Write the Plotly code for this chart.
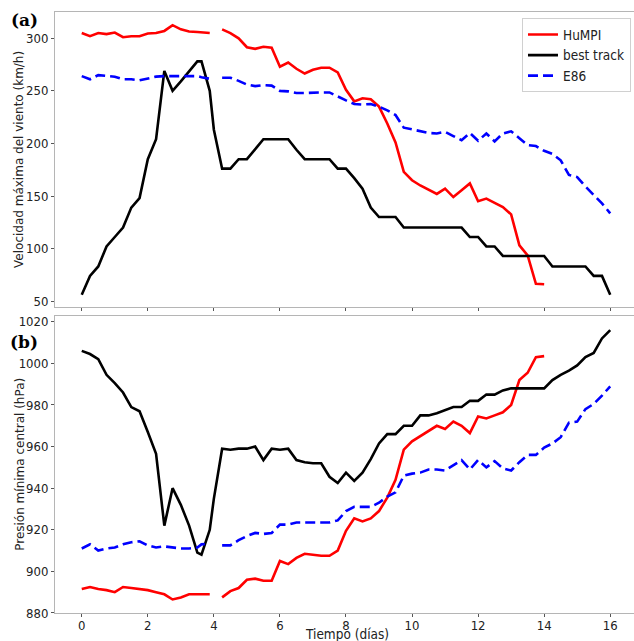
import plotly.graph_objects as go
from plotly.subplots import make_subplots

# time axis (days): 6-hourly, with extra best-track fixes near landfall
dias = [i * 0.25 for i in range(15)] + [3.625, 3.875, 4.0] + [4.25 + i * 0.25 for i in range(48)]

N = None
# (a) maximum wind speed (km/h)
viento_best = [56, 74, 83, 102, 111, 120, 139, 148, 185, 204, 269, 250, 259, 269, 278,
               278, 250, 213,
               176, 176, 185, 185, 194, 204, 204, 204, 204, 194, 185, 185,
               185, 185, 176, 176, 167, 157, 139, 130, 130, 130, 120, 120,
               120, 120, 120, 120, 120, 120, 111, 111, 102, 102, 93, 93,
               93, 93, 93, 93, 83, 83, 83, 83, 83, 74, 74, 56]
viento_humpi = [305, 302, 305, 304, 305.5, 301, 302, 302, 304.5, 305, 307, 312.5, 308.5, 306.5, 306,
                305.5, 305, N,
                308.5, 305, 300, 291.5, 290, 292, 291, 273, 277, 271, 266.5, 270,
                272, 272, 267.5, 251, 240, 243, 242, 235, 219, 201, 173, 165,
                160, 156, 152, 157, 149, 155.5, 162, 145, 147.5, 143.5, 139.5, 132.5,
                103, 93.5, 66.5, 66, N, N, N, N, N, N, N, N]
viento_e86 = [264, 261, 265, 264, 263.5, 261, 261, 260, 262, 263.5, 264, 264, 264, 264.5, 264,
              263, 261.5, N,
              262.5, 262.5, 259.5, 256, 254.5, 255.5, 255, 250, 249.5, 248, 248, 248.5,
              248.5, 248.5, 244.5, 241, 237.5, 237, 237.5, 235, 231.5, 227, 215, 213.5,
              211.5, 210, 209.5, 211, 207, 203, 210, 202.5, 209.5, 202, 209.5, 211.5,
              205, 198.5, 197.5, 193, 190, 184, 170, 168, 159, 151, 143, 133.5]

# (b) minimum central pressure (hPa)
pres_best = [1006, 1004.5, 1002, 994.5, 990.5, 986, 979, 977, 967, 956.5, 922, 940, 932, 922, 909,
             908, 920, 935,
             959, 958.5, 959, 959, 960, 953.5, 959, 958.5, 959, 953.5, 952.5, 952,
             952, 945.5, 942.5, 947.5, 943.5, 947.5, 954, 961.5, 966, 966, 970, 970,
             975, 975, 976, 977.5, 979, 979, 982, 982, 985, 985, 987, 988,
             988, 988, 988, 988, 992, 994.5, 996.5, 999, 1003, 1005, 1012, 1016]
pres_humpi = [891.5, 892.5, 891.5, 891, 890, 892.5, 892, 891.5, 891, 890, 889, 886.5, 887.5, 889, 889,
              889, 889, N,
              887.5, 890.5, 892, 896, 896.5, 895.5, 895.5, 905, 903.5, 906.5, 908.5, 908,
              907.5, 907.5, 910, 919.5, 925.5, 924, 925.5, 929, 935.5, 944, 958.5, 962.5,
              965, 967.5, 970, 968.5, 972, 970, 966.5, 974.5, 973.5, 975, 976.5, 980,
              992, 995.5, 1003, 1003.5, N, N, N, N, N, N, N, N]
pres_e86 = [911, 913, 910, 911, 911.5, 913, 914, 914.5, 912.5, 911.5, 912, 911.5, 911, 911, 911.5,
            913, 913.5, N,
            912.5, 912.5, 915, 917, 918.5, 918, 918.5, 922.5, 922.5, 923.5, 923.5, 923.5,
            923.5, 923.5, 924.5, 929, 931, 931, 931, 933, 936, 938, 946, 947,
            947.5, 949, 949, 948.5, 951, 953.5, 949, 953.5, 950, 953, 949.5, 948.5,
            952.5, 956, 956, 959.5, 961.5, 964.5, 971.5, 972, 978, 980.5, 984.5, 989]

x_ticks = [0, 2, 4, 6, 8, 10, 12, 14, 16]
y_ticks_a = [50, 100, 150, 200, 250, 300]
y_ticks_b = [880, 900, 920, 940, 960, 980, 1000, 1020]

fig = make_subplots(rows=2, cols=1, shared_xaxes=True, vertical_spacing=0)

LW = 2.6
series = [
    ("HuMPI", "red", "solid", viento_humpi, pres_humpi),
    ("best track", "black", "solid", viento_best, pres_best),
    ("E86", "blue", "10px,5px", viento_e86, pres_e86),
]
for name, col, dash, va, vb in series:
    fig.add_trace(go.Scatter(x=dias, y=va, mode="lines", name=name,
                             line=dict(color=col, width=LW, dash=dash),
                             connectgaps=False, showlegend=True), row=1, col=1)
    fig.add_trace(go.Scatter(x=dias, y=vb, mode="lines", name=name,
                             line=dict(color=col, width=LW, dash=dash),
                             connectgaps=False, showlegend=False), row=2, col=1)

FAM = "DejaVu Sans Condensed, DejaVu Sans"
font = dict(family=FAM, size=13, color="#222")
axcommon = dict(showgrid=False, zeroline=False, showline=True, linecolor="#b5b5b5",
                linewidth=1, ticks="outside", ticklen=3, tickcolor="#555", tickwidth=1,
                tickfont=font)

fig.update_xaxes(range=[-0.81, 16.72], tickvals=x_ticks, mirror=True,
                 ticklabelstandoff=-3, **axcommon)
fig.update_xaxes(showticklabels=False, row=1, col=1)

fig.update_yaxes(**axcommon)
fig.update_yaxes(range=[44, 325], tickvals=y_ticks_a, domain=[0.5084, 1.0], row=1, col=1)
fig.update_yaxes(range=[880, 1022.7], tickvals=y_ticks_b, domain=[0.0, 0.4939], row=2, col=1)

tfont = dict(family="DejaVu Sans", size=12, color="#222")
# axis titles as annotations (paper coords)
fig.add_annotation(text="Velocidad máxima del viento (km/h)", xref="paper", yref="paper",
                   x=-0.0618, y=(1.0 + 0.5084) / 2, textangle=-90, xanchor="center",
                   yanchor="middle", showarrow=False, font=tfont)
fig.add_annotation(text="Presión mínima central (hPa)", xref="paper", yref="paper",
                   x=-0.0618, y=0.4939 / 2, textangle=-90, xanchor="center",
                   yanchor="middle", showarrow=False, font=tfont)
fig.add_annotation(text="Tiempo (días)", xref="paper", yref="paper",
                   x=(347 - 55) / 579, y=-(634 - 612.7) / 600.7, xanchor="center",
                   yanchor="middle", showarrow=False,
                   font=dict(family=FAM, size=13.5, color="#222"))

fig.add_annotation(text="<b>(a)</b>", xref="paper", yref="paper", x=-0.0535, y=0.986,
                   xanchor="center", yanchor="middle", showarrow=False,
                   font=dict(family="DejaVu Serif", size=17, color="black"))
fig.add_annotation(text="<b>(b)</b>", xref="paper", yref="paper", x=-0.0535, y=0.4515,
                   xanchor="center", yanchor="middle", showarrow=False,
                   font=dict(family="DejaVu Serif", size=17, color="black"))

fig.update_layout(
    width=634, height=641,
    margin=dict(l=55, r=0, t=11.7, b=28.3),
    paper_bgcolor="white", plot_bgcolor="white",
    font=font,
    legend=dict(x=0.9948, y=0.9896, xanchor="right", yanchor="top",
                bgcolor="white", bordercolor="#d0d0d0", borderwidth=1,
                font=dict(family=FAM, size=13.5, color="#222"),
                itemwidth=30, tracegroupgap=0),
)

fig.write_html("out.html")
